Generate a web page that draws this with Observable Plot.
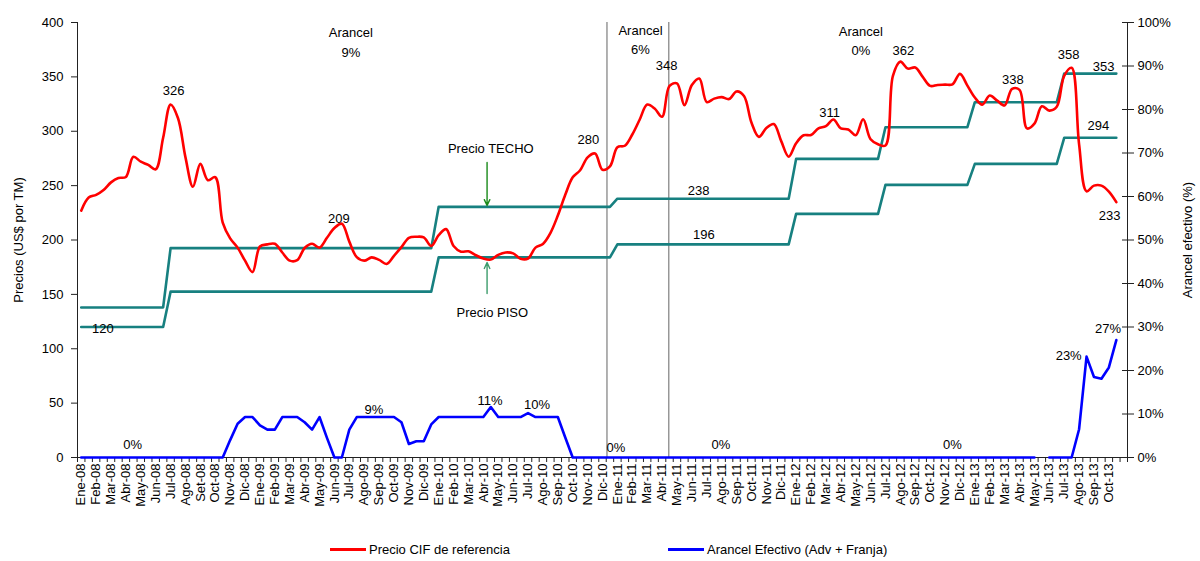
<!DOCTYPE html>
<html>
<head>
<meta charset="utf-8">
<script src="https://cdn.jsdelivr.net/npm/d3@7"></script>
<script src="https://cdn.jsdelivr.net/npm/@observablehq/plot@0.6"></script>
<style>
  html, body { margin: 0; padding: 0; background: #fff; }
  body { width: 1200px; height: 561px; overflow: hidden; font-family: "Liberation Sans", Arial, sans-serif; }
  #legend { position: relative; height: 41px; font-size: 13px; color: #000; }
  .item { position: absolute; top: 22px; display: flex; align-items: center; white-space: nowrap; }
  .sw { display: inline-block; width: 36px; height: 3px; margin-right: 3px; }
</style>
</head>
<body>
<div id="chart"></div>
<div id="legend">
  <div class="item" style="left:330px"><span class="sw" style="background:#ff0000"></span>Precio CIF de referencia</div>
  <div class="item" style="left:668px"><span class="sw" style="background:#0000ff"></span>Arancel Efectivo (Adv + Franja)</div>
</div>
<script>
// Etiquetas mensuales del eje (cada mes = 2 observaciones quincenales)
const mesEtiquetas = [
  "Ene-08","Feb-08","Mar-08","Abr-08","May-08","Jun-08","Jul-08","Ago-08","Set-08","Oct-08","Nov-08","Dic-08",
  "Ene-09","Feb-09","Mar-09","Abr-09","May-09","Jun-09","Jul-09","Ago-09","Sep-09","Oct-09","Nov-09","Dic-09",
  "Ene-10","Feb-10","Mar-10","Abr-10","May-10","Jun-10","Jul-10","Ago-10","Sep-10","Oct-10","Nov-10","Dic-10",
  "Ene-11","Feb-11","Mar-11","Abr-11","May-11","Jun-11","Jul-11","Ago-11","Sep-11","Oct-11","Nov-11","Dic-11",
  "Ene-12","Feb-12","Mar-12","Abr-12","May-12","Jun-12","Jul-12","Ago-12","Sep-12","Oct-12","Nov-12","Dic-12",
  "Ene-13","Feb-13","Mar-13","Abr-13","May-13","Jun-13","Jul-13","Ago-13","Sep-13","Oct-13"
];

// Precio CIF de referencia (US$ por TM), quincenal
const precioCIF = [
  227,239,241.5,246,253,257,258,276.5,272,269,
  265,294,324.5,312,276,249,270,255,257.7,216,
  201.5,193,181,170.5,194,196,196.5,188.5,181,181.5,
  192.6,196.5,193,202,211,215,198.5,184.2,181,184,
  181.7,178,185.5,193.4,202,203,202.4,194.5,204.4,210,
  194.5,189.3,189.6,186,183,182,186.3,188.5,187.7,182.8,
  183,193,196.4,206.4,222.5,241.6,257.6,264.2,276,279.5,
  264.6,267.7,285.4,286.7,297,310.8,324.5,320.9,313.3,341.7,
  344,324,342.5,348.5,326.8,330,331.4,329.6,336.6,332.4,
  308,294.8,302.9,306.6,290.9,276.6,289,296.3,296.5,302.7,
  304.7,310.8,302.6,301.6,296.3,311,292.6,288,286.9,351,
  364,357.6,358.6,350,341.7,342.6,342.9,343.2,352.8,342,
  331,324.5,332.8,328.2,323.7,339,338,302.6,307,323,
  319,322.5,351,358.3,288,244.8,250,250,244.5,234.8
];

// Arancel efectivo (Adv + Franja), %
const arancelEfectivo = [
  0,0,0,0,0,0,0,0,0,0,
  0,0,0,0,0,0,0,0,0,0,
  4,7.75,9.3,9.3,7.4,6.4,6.4,9.3,9.3,9.3,
  8.1,6.4,9.3,4.5,0,0,6.4,9.3,9.3,9.3,
  9.3,9.3,9.3,8.1,3.1,3.75,3.75,7.6,9.3,9.3,
  9.3,9.3,9.3,9.3,9.3,11.6,9.3,9.3,9.3,9.3,
  10.2,9.3,9.3,9.3,9.3,4.6,0,0,0,0,
  0,0,0,0,0,0,0,0,0,0,
  0,0,0,0,0,0,0,0,0,0,
  0,0,0,0,0,0,0,0,0,0,
  0,0,0,0,0,0,0,0,0,0,
  0,0,0,0,0,0,0,0,0,0,
  0,0,0,0,0,0,0,0,0,null,
  0,0,0,0,6.5,23.2,18.5,18.1,20.7,27
];

// Franja de precios: inicio de cada semestre (índice quincenal) y precios techo/piso
const franjaInicio = [0, 12, 48, 72, 96, 108, 120, 132];
const precioTecho = [138, 192.5, 230.5, 238, 274.6, 303.7, 326.7, 353];
const precioPiso  = [120, 152.5, 184, 196, 224, 250.7, 270, 294];

// Cambios de arancel (índice quincenal)
const cambiosArancel = [70.6, 78.9];

// Ejes
const yTicks = [0, 50, 100, 150, 200, 250, 300, 350, 400];
const pctTicks = [0, 10, 20, 30, 40, 50, 60, 70, 80, 90, 100];
const escalaSecundaria = 4; // 100% ↔ 400

// Anotaciones (posición en unidades de datos)
const etiquetasValor = [
  {t: "326", i: 12.4, v: 339}, {t: "209", i: 34.6, v: 221.6}, {t: "280", i: 68.1, v: 294.3},
  {t: "348", i: 78.6, v: 362.3}, {t: "238", i: 82.9, v: 247.4}, {t: "196", i: 83.6, v: 206.9},
  {t: "311", i: 100.5, v: 319.1}, {t: "362", i: 110.4, v: 376.1}, {t: "338", i: 125.1, v: 349.4},
  {t: "358", i: 132.6, v: 372.4}, {t: "353", i: 137.3, v: 361.4}, {t: "294", i: 136.6, v: 307.1},
  {t: "233", i: 138.1, v: 224.4}, {t: "120", i: 2.9, v: 120.5},
  {t: "0%", i: 6.9, v: 13.8}, {t: "9%", i: 39.3, v: 46}, {t: "11%", i: 54.9, v: 54.3},
  {t: "10%", i: 61.2, v: 50.6}, {t: "0%", i: 71.8, v: 11}, {t: "0%", i: 85.9, v: 13.8},
  {t: "0%", i: 117, v: 13.8}, {t: "23%", i: 132.6, v: 95.6}, {t: "27%", i: 137.9, v: 120.5},
  {t: "Arancel\n9%", i: 36.2, v: 383}, {t: "Arancel\n6%", i: 75.1, v: 385.5},
  {t: "Arancel\n0%", i: 104.7, v: 384.5},
  {t: "Precio TECHO", i: 55, v: 286}, {t: "Precio PISO", i: 55.2, v: 135.2}
];
const flechas = [
  {i: 54.5, v1: 271.3, v2: 231.7, c: "#1a8a1a"},
  {i: 54.5, v1: 150.8, v2: 179.3, c: "#3d9c6c"}
];

// Tablas
const cif = precioCIF.map((v, i) => ({i, v}));
const arancel = arancelEfectivo.map((p, i) => ({i, v: p == null ? null : p * escalaSecundaria}));
function escalones(vals) {
  const pts = [];
  franjaInicio.forEach((s, k) => {
    const e = k < franjaInicio.length - 1 ? franjaInicio[k + 1] - 1 : precioCIF.length - 1;
    pts.push({i: s, v: vals[k]}, {i: e, v: vals[k]});
  });
  return pts;
}
const techo = escalones(precioTecho);
const piso = escalones(precioPiso);
const mesIdx = mesEtiquetas.map((_, m) => m * 2);
const limites = d3.range(-0.5, 141, 1);

const teal = "#178080";
const chart = Plot.plot({
  width: 1200,
  height: 520,
  marginTop: 22,
  marginBottom: 63,
  marginLeft: 77,
  marginRight: 73,
  style: {fontFamily: "'Liberation Sans', Arial, sans-serif", fontSize: "13px", color: "#000", background: "#fff"},
  x: {type: "linear", domain: [-0.5, 140.5], axis: null},
  y: {domain: [0, 400], axis: null},
  marks: [
    Plot.ruleX(cambiosArancel, {y1: 0, y2: 400, stroke: "#888", strokeWidth: 1.3}),
    Plot.ruleX([-0.5, 140.5], {y1: 0, y2: 400, stroke: "#222", strokeWidth: 1}),
    Plot.ruleY([0], {stroke: "#222", strokeWidth: 1}),
    Plot.axisY({anchor: "left", ticks: yTicks, tickSize: 6, tickPadding: 8, label: null, stroke: "#222"}),
    Plot.axisY({anchor: "right", ticks: pctTicks.map(p => p * escalaSecundaria), tickFormat: d => (d / escalaSecundaria) + "%", tickSize: 6, tickPadding: 4, label: null, stroke: "#222"}),
    Plot.axisY({anchor: "right", ticks: pctTicks.map(p => p * escalaSecundaria), tickFormat: () => "", tickSize: -6, label: null, stroke: "#222"}),
    Plot.axisX({ticks: limites, tickFormat: () => "", tickSize: 5, label: null, stroke: "#222"}),
    Plot.axisX({ticks: mesIdx, tickFormat: d => mesEtiquetas[d / 2], tickRotate: -90, tickSize: 0, tickPadding: 6, label: null}),
    Plot.text(["Precios (US$ por TM)"], {frameAnchor: "left", dx: -59, rotate: -90, textAnchor: "middle", fontSize: 13}),
    Plot.text(["Arancel efectivo (%)"], {frameAnchor: "right", dx: 60, rotate: -90, textAnchor: "middle", fontSize: 13}),
    Plot.line(techo, {x: "i", y: "v", stroke: teal, strokeWidth: 2.6}),
    Plot.line(piso, {x: "i", y: "v", stroke: teal, strokeWidth: 2.6}),
    Plot.line(cif, {x: "i", y: "v", stroke: "#ff0000", strokeWidth: 2.6, curve: "catmull-rom"}),
    Plot.line(arancel, {x: "i", y: "v", stroke: "#0000ff", strokeWidth: 2.6}),
    Plot.arrow(flechas, {x1: "i", x2: "i", y1: "v1", y2: "v2", stroke: "c", strokeWidth: 1.4, headLength: 7, headAngle: 50}),
    Plot.text(etiquetasValor, {x: "i", y: "v", text: "t", fill: "#000", lineHeight: 1.5, fontSize: 13})
  ]
});
document.getElementById("chart").appendChild(chart);
</script>
</body>
</html>
